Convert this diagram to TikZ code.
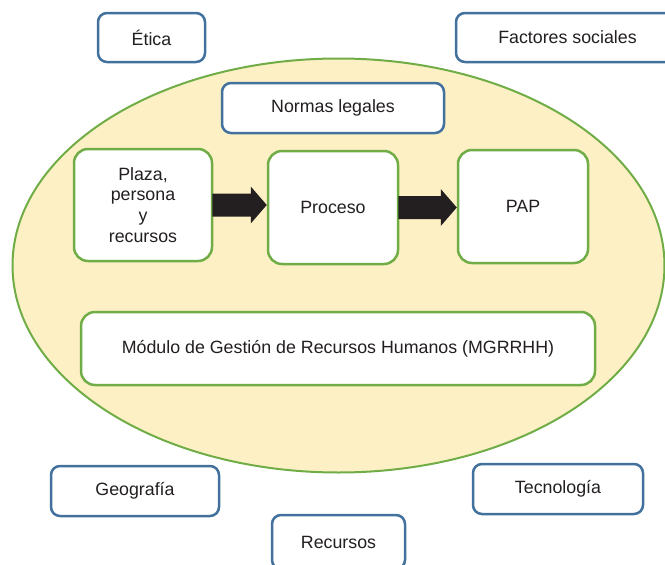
\documentclass[tikz,border=0pt]{standalone}
\usepackage{fontspec}
\setmainfont{Liberation Sans}
\usetikzlibrary{calc}
\definecolor{outerblue}{RGB}{65,113,156}
\definecolor{innergreen}{RGB}{112,173,71}
\definecolor{cream}{RGB}{253,240,196}
\definecolor{ink}{RGB}{35,31,32}
\tikzset{
  base/.style={fill=white, text=ink, align=center, inner sep=0pt,
    font=\fontsize{17.8}{20.8}\selectfont},
  bluebox/.style={base, draw=outerblue, line width=2.5pt, rounded corners=9pt},
  greenbox/.style={base, draw=innergreen, line width=2.5pt, rounded corners=14pt},
  blockarrow/.style={fill=ink},
}
% filled block arrow from the east side of #1 to the west side of #2
\newcommand\blockarrowbetween[2]{%
  \path[blockarrow] let \p1=(#1.east), \p2=(#2.west) in
    (\x1-1pt,\y1+11.5pt) -- (\x2-16pt,\y1+11.5pt) -- (\x2-16pt,\y1+18.5pt)
    -- (\x2,\y1) -- (\x2-16pt,\y1-18.5pt) -- (\x2-16pt,\y1-11.5pt)
    -- (\x1-1pt,\y1-11.5pt) -- cycle;}
\begin{document}
\begin{tikzpicture}[x=1pt,y=-1pt]
  \useasboundingbox (0,0) rectangle (665,565);
  \clip (0,0) rectangle (665,565);

  % central field
  \draw[fill=cream, draw=innergreen, line width=2pt]
    (338.5,265.5) ellipse [x radius=326, y radius=207];

  % surrounding factors
  \node[bluebox, minimum width=107, minimum height=49] (etica) at (151.5,37.5) {Ética};
  \node[bluebox, minimum width=223, minimum height=49] (sociales) at (567.5,37.5) {Factores sociales};
  \node[bluebox, minimum width=168, minimum height=50] (geo) at (135,491) {Geografía};
  \node[bluebox, minimum width=170, minimum height=50] (tec) at (558,489) {Tecnología};
  \node[bluebox, minimum width=133, minimum height=54] (rec) at (338.5,542) {Recursos};

  % inner elements
  \node[bluebox, minimum width=222, minimum height=50] (normas) at (333,108) {Normas legales};
  \node[greenbox, minimum width=138, minimum height=112] (plaza) at (143,205)
    {Plaza,\\persona\\y\\recursos};
  \node[greenbox, minimum width=130, minimum height=113] (proceso) at (333,207.5) {Proceso};
  \node[greenbox, minimum width=130, minimum height=113] (pap) at (523,206.5) {PAP};
  \node[greenbox, minimum width=514, minimum height=73] (mgrrhh) at (338,348.5)
    {Módulo de Gestión de Recursos Humanos (MGRRHH)};

  % flow
  \blockarrowbetween{plaza}{proceso}
  \blockarrowbetween{proceso}{pap}
\end{tikzpicture}
\end{document}
